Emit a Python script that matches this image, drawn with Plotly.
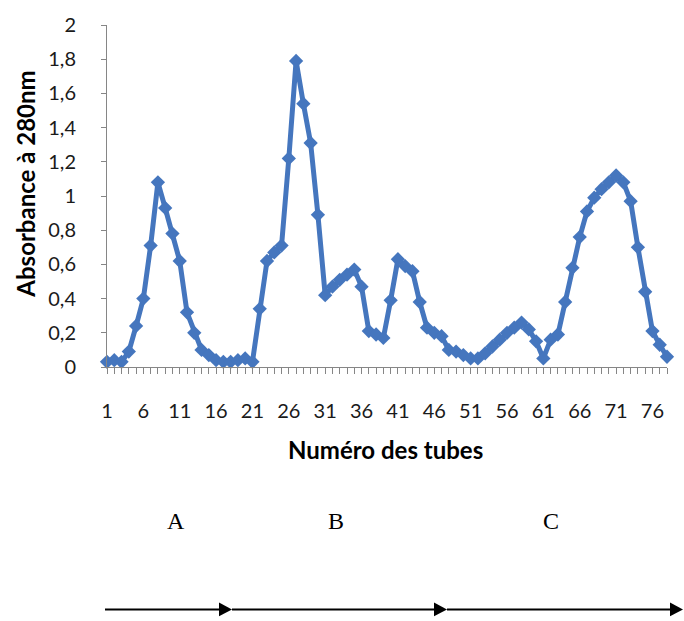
import plotly.graph_objects as go

# ---- data ----
tubes = list(range(1, 79))
absorbance = [
    0.03, 0.04, 0.03, 0.09, 0.24, 0.40, 0.71, 1.08, 0.93, 0.78,
    0.62, 0.32, 0.20, 0.10, 0.07, 0.04, 0.03, 0.03, 0.04, 0.05,
    0.03, 0.34, 0.62, 0.67, 0.71, 1.22, 1.79, 1.54, 1.31, 0.89,
    0.42, 0.47, 0.51, 0.54, 0.57, 0.47, 0.21, 0.19, 0.17, 0.39,
    0.63, 0.59, 0.56, 0.38, 0.23, 0.20, 0.18, 0.10, 0.09, 0.07,
    0.05, 0.05, 0.08, 0.12, 0.16, 0.20, 0.23, 0.26, 0.22, 0.15,
    0.05, 0.16, 0.19, 0.38, 0.58, 0.76, 0.91, 0.99, 1.04, 1.08,
    1.12, 1.08, 0.97, 0.70, 0.44, 0.21, 0.13, 0.06,
]
x_tick_labels = [str(t) if (t - 1) % 5 == 0 else "" for t in tubes]
y_tick_vals = [0, 0.2, 0.4, 0.6, 0.8, 1.0, 1.2, 1.4, 1.6, 1.8, 2.0]
y_tick_labels = ["0", "0,2", "0,4", "0,6", "0,8", "1", "1,2", "1,4", "1,6", "1,8", "2"]
x_title = "Numéro des tubes"
y_title = "Absorbance à 280nm"
zone_labels = ["A", "B", "C"]

# ---- layout geometry (pixels) ----
W, H = 684, 621
ML, MR, MT, MB = 107, 17, 20, 254
PW, PH = W - ML - MR, H - MT - MB


def px_x(px):
    return (px - ML) / PW


def px_y(py):
    return 1 - (py - MT) / PH


BLUE = "#4576BE"
FONT = "Lato"
TICK_SIZE = 20
TITLE_SIZE = 24

fig = go.Figure()
fig.add_trace(go.Scatter(
    x=tubes, y=absorbance, mode="lines+markers",
    line=dict(color=BLUE, width=5),
    marker=dict(symbol="diamond", size=11, color=BLUE, line=dict(width=0)),
    cliponaxis=False, showlegend=False,
))

fig.update_layout(
    width=W, height=H,
    margin=dict(l=ML, r=MR, t=MT, b=MB, pad=0),
    paper_bgcolor="white", plot_bgcolor="white",
    font=dict(family=FONT, size=TICK_SIZE, color="#000000"),
    xaxis=dict(
        range=[1, 78], tickmode="array", tickvals=tubes, ticktext=x_tick_labels,
        ticks="outside", ticklen=6, tickcolor="#868686", tickwidth=1,
        showline=True, linecolor="#868686", linewidth=1,
        showgrid=False, zeroline=False, ticklabelstandoff=20,
        tickfont=dict(family=FONT, size=TICK_SIZE, color="#1a1a1a"),
    ),
    yaxis=dict(
        range=[0, 2], tickmode="array", tickvals=y_tick_vals, ticktext=y_tick_labels,
        ticks="outside", ticklen=5, tickcolor="#868686", tickwidth=1,
        showline=True, linecolor="#868686", linewidth=1,
        showgrid=False, zeroline=False, ticklabelstandoff=21,
        tickfont=dict(family=FONT, size=TICK_SIZE, color="#1a1a1a"),
    ),
)

annotations = [
    dict(text=f"<b>{x_title}</b>", x=px_x(385), y=px_y(451), xref="paper", yref="paper",
         showarrow=False, xanchor="center", yanchor="middle",
         font=dict(family=FONT, size=TITLE_SIZE)),
    dict(text=f"<b>{y_title}</b>", x=px_x(26), y=px_y(181), xref="paper", yref="paper",
         showarrow=False, xanchor="center", yanchor="middle", textangle=-90,
         font=dict(family=FONT, size=TITLE_SIZE)),
]
for lab, cx in zip(zone_labels, [176, 336, 551]):
    annotations.append(dict(text=lab, x=px_x(cx), y=px_y(523), xref="paper", yref="paper",
                            showarrow=False, xanchor="center", yanchor="middle",
                            font=dict(family="Liberation Serif", size=24, color="black")))
fig.update_layout(annotations=annotations)

# arrows along the bottom
shapes = []
ay = 613
segments = [(105, 232), (232, 447), (447, 683)]
for x0, x1 in segments:
    shapes.append(dict(type="line", xref="paper", yref="paper",
                       x0=px_x(x0), x1=px_x(x1 - 10), y0=px_y(ay), y1=px_y(ay),
                       line=dict(color="black", width=2)))
    path = (f"M {px_x(x1 - 13)} {px_y(ay - 7)} L {px_x(x1)} {px_y(ay)} "
            f"L {px_x(x1 - 13)} {px_y(ay + 7)} Z")
    shapes.append(dict(type="path", xref="paper", yref="paper", path=path,
                       fillcolor="black", line=dict(color="black", width=0)))
fig.update_layout(shapes=shapes)

fig.write_html("out.html")
